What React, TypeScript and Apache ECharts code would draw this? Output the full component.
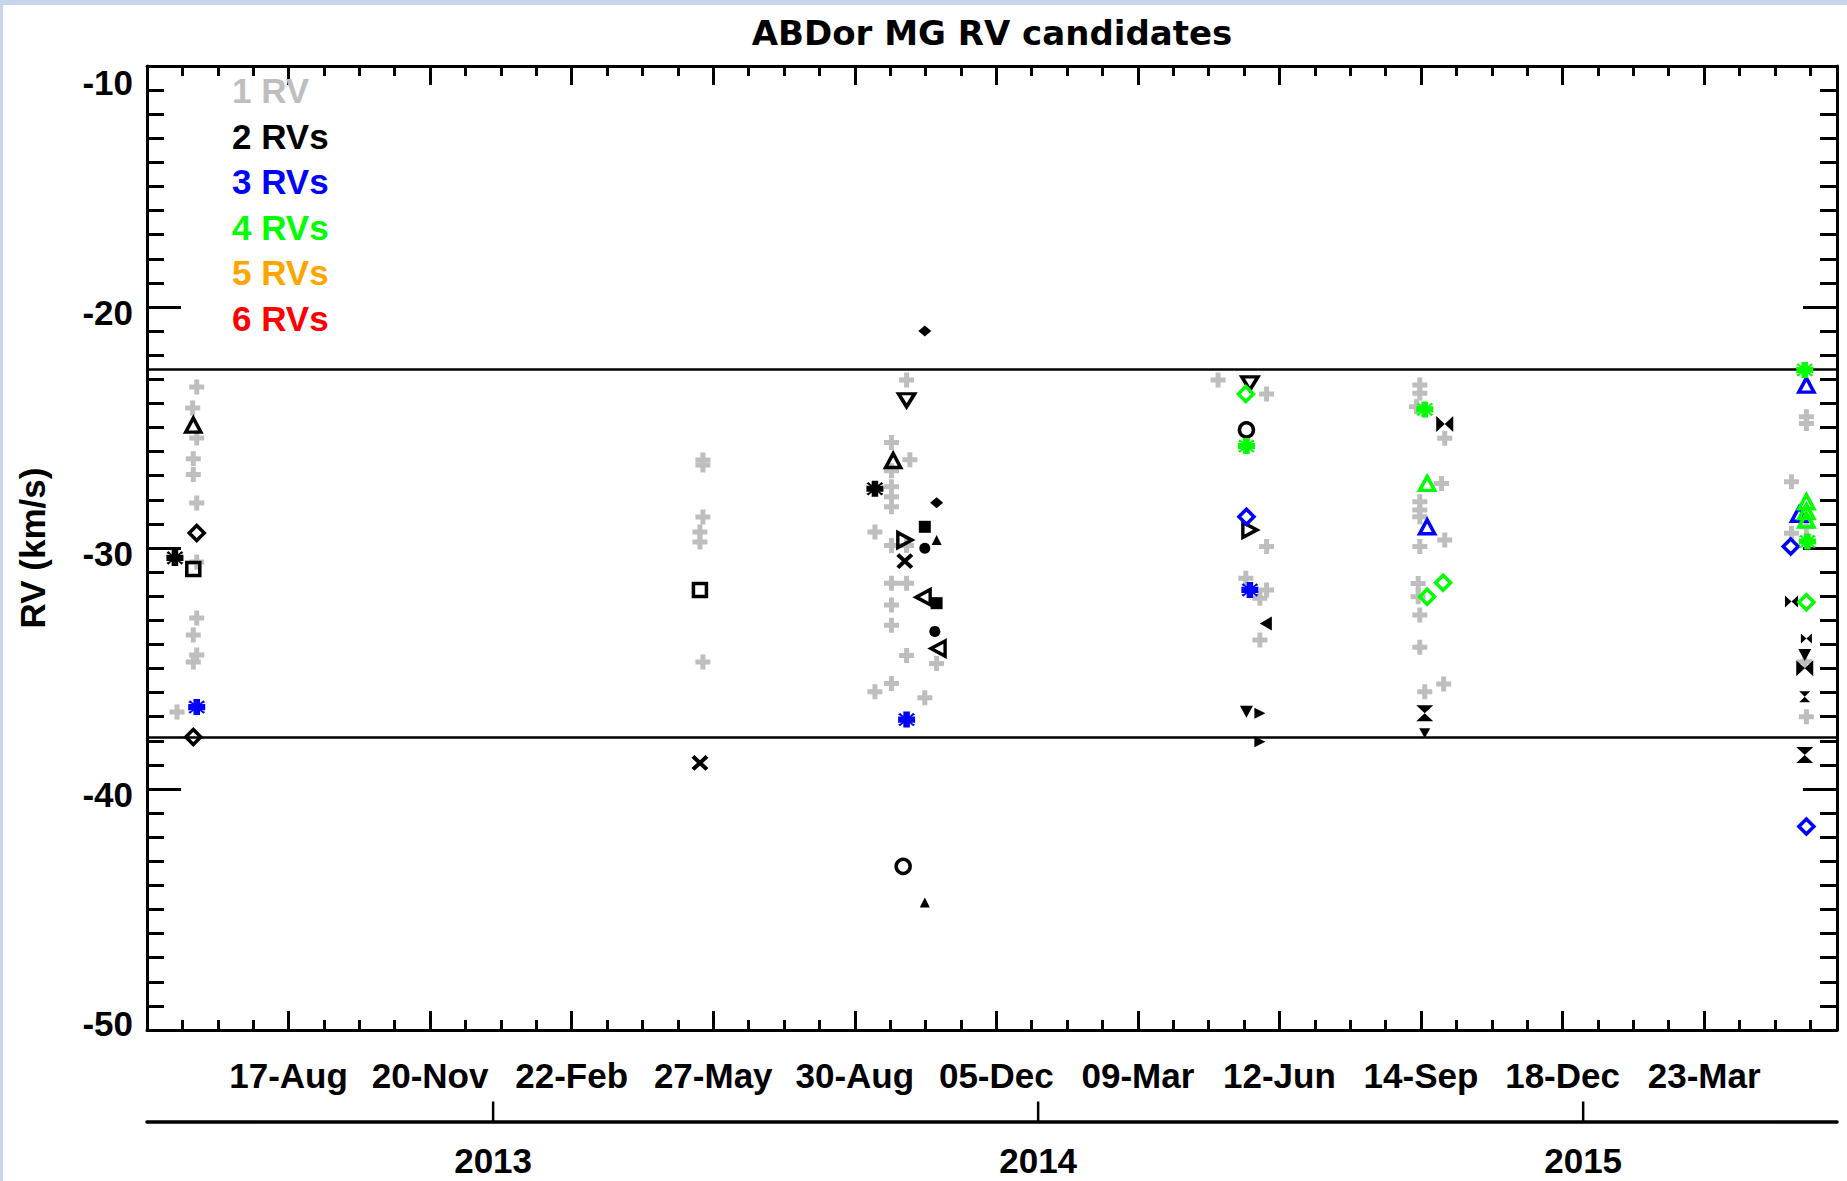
import React, { useEffect, useRef } from 'react';
import * as echarts from 'echarts';

// x values are days since 17-Aug-2012 (first labelled tick)
const DAY0 = Date.UTC(2012, 7, 17);
const X_MIN = -94.8;
const X_MAX = 1037;
const X_INTERVAL = 94.8;
const DATE_LABELS = ['17-Aug', '20-Nov', '22-Feb', '27-May', '30-Aug', '05-Dec', '09-Mar', '12-Jun', '14-Sep', '18-Dec', '23-Mar'];
const YEAR_LABELS = ['2013', '2014', '2015'];
const YEAR_DATES = ['2013-01-01', '2014-01-01', '2015-01-01'];
const Y_MIN = -50;
const Y_MAX = -10;
const Y_INTERVAL = 10;
const THRESHOLDS = [-22.58, -37.84];
const TITLE = 'ABDor MG RV candidates';
const Y_NAME = 'RV (km/s)';
const LEGEND_LABELS = ['1 RV', '2 RVs', '3 RVs', '4 RVs', '5 RVs', '6 RVs'];
const LEGEND_COLORS = ['#bebebe', '#000000', '#0000ff', '#00ff00', '#ffa500', '#ff0000'];

// [day, RV]
const ONE_RV: [number, number][] = [
  [-61.5, -23.32], [-64.2, -24.19], [-61.5, -25.44], [-63.8, -26.3], [-63.8, -26.95], [-61.5, -28.13],
  [-61.5, -30.58], [-61.5, -32.9], [-63.8, -33.61], [-61.5, -34.44], [-63.8, -34.73], [-74.7, -36.8],
  [277.5, -26.35], [277.5, -26.56], [277.5, -28.71], [275.5, -29.34], [275.5, -29.75], [277.5, -34.73],
  [413.9, -23.03], [403.8, -25.62], [416.1, -26.34], [403.8, -26.79], [403.8, -27.46], [403.8, -27.87],
  [403.8, -28.29], [392.7, -29.34], [403.8, -29.9], [413.9, -29.9], [403.8, -31.46], [413.9, -31.46],
  [403.8, -32.37], [403.8, -33.21], [413.9, -34.46], [434.0, -34.79], [403.8, -35.62], [392.7, -35.96],
  [426.1, -36.21],
  [622.5, -23.03], [655.0, -23.61], [655.0, -29.94], [641.1, -31.26], [655.0, -31.74], [650.5, -32.09],
  [650.5, -33.82],
  [757.6, -23.24], [757.6, -23.58], [755.4, -24.14], [774.3, -25.45], [772.1, -27.32], [757.6, -28.08],
  [757.6, -28.42], [757.6, -28.7], [774.3, -29.67], [757.6, -29.94], [756.5, -31.47], [756.5, -32.02],
  [757.6, -32.78], [757.6, -34.12], [773.6, -35.64], [760.9, -35.96],
  [1016.5, -24.55], [1016.5, -24.83], [1006.5, -27.25], [1006.5, -29.39], [1016.5, -29.12], [1015.4, -34.72],
  [1016.5, -37.0],
];

// [day, RV, symbol]
const TWO_RVS: [number, number, string][] = [
  [-63.8, -24.9, 'triUp'], [-61.5, -29.38, 'diamond'], [-76.1, -30.41, 'asterisk'], [-63.8, -30.87, 'square'],
  [-63.8, -37.84, 'diamond'],
  [275.5, -31.74, 'square'], [275.5, -38.92, 'x'],
  [426.1, -21.0, 'fdiamond'], [413.9, -23.87, 'triDown'], [404.9, -26.37, 'triUp'], [392.7, -27.54, 'asterisk'],
  [434.0, -28.12, 'fdiamond'], [426.1, -29.12, 'fsquare'], [412.7, -29.67, 'triRight'], [434.0, -29.67, 'ftriUp'],
  [426.1, -30.01, 'fcircle'], [412.7, -30.54, 'x'], [425.0, -32.04, 'triLeft'], [434.0, -32.29, 'fsquare'],
  [432.8, -33.46, 'fcircle'], [435.0, -34.17, 'triLeft'], [411.6, -43.21, 'circle'], [426.1, -44.71, 'ftriUp'],
  [643.8, -23.17, 'triDown'], [641.5, -25.1, 'circle'], [643.8, -29.25, 'triRight'], [654.5, -33.13, 'ftriLeft'],
  [641.5, -36.79, 'ftriDown'], [650.5, -36.86, 'ftriRight'], [650.5, -38.04, 'ftriRight'],
  [774.3, -24.85, 'bowtie'], [760.9, -36.86, 'hourglass'], [760.9, -37.69, 'ftriDownS'],
  [1006.5, -32.22, 'bowtieM'], [1016.5, -33.75, 'bowtieS'], [1015.4, -34.44, 'ftriDown'], [1015.4, -34.99, 'bowtie'],
  [1015.4, -36.17, 'hourglassS'], [1015.4, -38.59, 'hourglass'],
];

const THREE_RVS: [number, number, string][] = [
  [-61.5, -36.6, 'asterisk'], [413.9, -37.12, 'asterisk'], [643.8, -31.74, 'asterisk'],
  [641.5, -28.7, 'diamond'], [1006.0, -29.94, 'diamond'], [1016.5, -41.56, 'diamond'],
  [762.5, -29.12, 'triUp'], [1016.5, -23.24, 'triUp'], [1011.6, -28.6, 'triUp'],
];

const FOUR_RVS: [number, number, string][] = [
  [641.5, -25.77, 'asterisk'], [760.9, -24.25, 'asterisk'], [1015.4, -22.61, 'asterisk'], [1017.2, -29.73, 'asterisk'],
  [641.1, -23.61, 'diamond'], [773.2, -31.44, 'diamond'], [762.5, -32.02, 'diamond'], [1016.5, -32.25, 'diamond'],
  [762.5, -27.32, 'triUp'], [1016.5, -28.08, 'triUp'], [1016.5, -28.49, 'triUp'], [1016.5, -28.84, 'triUp'],
];

const FONT = '"Liberation Sans", Arial, sans-serif';

type SymDef = { path: string; fill: boolean; size: number[]; stroke?: number };
const ASTERISK =
  'path://M-1,-2.6L1,-2.6L1,-1.2L2,-2.2L2.6,-1.6L1.4,-1L2.6,-1L2.6,1L1.4,1L2.6,1.6L2,2.2L1,1.2L1,2.6L-1,2.6L-1,1.2L-2,2.2L-2.6,1.6L-1.4,1L-2.6,1L-2.6,-1L-1.4,-1L-2.6,-1.6L-2,-2.2L-1,-1.2Z';
const SYM: Record<string, SymDef> = {
  plus: { path: 'path://M-1,-3L1,-3L1,-1L3,-1L3,1L1,1L1,3L-1,3L-1,1L-3,1L-3,-1L-1,-1Z', fill: true, size: [15, 15] },
  triUp: { path: 'path://M0,-1L1,1L-1,1Z', fill: false, size: [15, 14], stroke: 3.5 },
  triDown: { path: 'path://M-1,-1L1,-1L0,1Z', fill: false, size: [16, 13], stroke: 3.5 },
  triRight: { path: 'path://M-1,-1L1,0L-1,1Z', fill: false, size: [14, 15], stroke: 3.5 },
  triLeft: { path: 'path://M1,-1L-1,0L1,1Z', fill: false, size: [14, 15], stroke: 3.5 },
  diamond: { path: 'path://M0,-1L1,0L0,1L-1,0Z', fill: false, size: [15, 15], stroke: 3.5 },
  square: { path: 'path://M-1,-1L1,-1L1,1L-1,1Z', fill: false, size: [13, 13], stroke: 3.5 },
  circle: { path: 'circle', fill: false, size: [14, 14], stroke: 3.5 },
  asterisk: { path: ASTERISK, fill: true, size: [17, 16] },
  x: { path: 'path://M-1,-1L1,1M-1,1L1,-1', fill: false, size: [14, 13], stroke: 4 },
  fdiamond: { path: 'path://M0,-1L1,0L0,1L-1,0Z', fill: true, size: [13, 11] },
  fsquare: { path: 'rect', fill: true, size: [12, 12] },
  fcircle: { path: 'circle', fill: true, size: [11, 11] },
  ftriUp: { path: 'path://M0,-1L1,1L-1,1Z', fill: true, size: [10, 10] },
  ftriDown: { path: 'path://M-1,-1L1,-1L0,1Z', fill: true, size: [13, 12] },
  ftriDownS: { path: 'path://M-1,-1L1,-1L0,1Z', fill: true, size: [11, 10] },
  ftriRight: { path: 'path://M-1,-1L1,0L-1,1Z', fill: true, size: [11, 11] },
  ftriLeft: { path: 'path://M1,-1L-1,0L1,1Z', fill: true, size: [12, 14] },
  bowtie: { path: 'path://M-1,-1L0,0L-1,1ZM1,-1L0,0L1,1Z', fill: true, size: [17, 16] },
  bowtieM: { path: 'path://M-1,-1L0,0L-1,1ZM1,-1L0,0L1,1Z', fill: true, size: [13, 12] },
  bowtieS: { path: 'path://M-1,-1L0,0L-1,1ZM1,-1L0,0L1,1Z', fill: true, size: [11, 10] },
  hourglass: { path: 'path://M-1,-1L1,-1L0,0ZM-1,1L1,1L0,0Z', fill: true, size: [17, 16] },
  hourglassS: { path: 'path://M-1,-1L1,-1L0,0ZM-1,1L1,1L0,0Z', fill: true, size: [11, 11] },
};

function points(rows: [number, number, string][], color: string) {
  return rows.map(([x, y, s]) => {
    const d = SYM[s];
    return {
      value: [x, y],
      symbol: d.path,
      symbolSize: d.size,
      itemStyle: {
        color: d.fill ? color : 'rgba(0,0,0,0)',
        borderColor: color,
        borderWidth: d.fill ? 0 : d.stroke,
        opacity: 1,
      },
    };
  });
}

const dayOf = (iso: string) => (Date.parse(iso) - DAY0) / 86400000;

const LINE = { color: '#000', width: 3 };
const labelFont = { fontFamily: FONT, fontWeight: 'bold' as const, fontSize: 35, color: '#000' };

function xLabel(v: number) {
  const i = Math.round(v / X_INTERVAL);
  if (Math.abs(v - i * X_INTERVAL) > 1e-3 || i < 0 || i >= DATE_LABELS.length) return '';
  return DATE_LABELS[i];
}

function buildOption(): any {
  const baseX = {
    type: 'value',
    min: X_MIN,
    max: X_MAX,
    interval: X_INTERVAL,
    axisLine: { show: true, onZero: false, lineStyle: LINE },
    axisTick: { show: true, inside: true, length: 19, lineStyle: LINE },
    minorTick: { show: true, splitNumber: 4, length: 10, lineStyle: LINE },
    splitLine: { show: false },
  };
  const baseY = {
    type: 'value',
    min: Y_MIN,
    max: Y_MAX,
    interval: Y_INTERVAL,
    axisLine: { show: true, onZero: false, lineStyle: LINE },
    axisTick: { show: true, inside: true, length: 34, lineStyle: LINE },
    minorTick: { show: true, splitNumber: 10, length: 17, lineStyle: LINE },
    splitLine: { show: false },
  };
  const common = { silent: true, emphasis: { disabled: true }, animation: false };
  return {
    animation: false,
    backgroundColor: '#ffffff',
    title: {
      text: TITLE,
      left: 989,
      top: 11,
      textAlign: 'center',
      padding: 0,
      textStyle: { fontFamily: '"DejaVu Sans", sans-serif', fontWeight: 'bold', fontSize: 34, color: '#000' },
    },
    legend: {
      orient: 'vertical',
      left: 224,
      top: 68,
      padding: 0,
      itemGap: 10.5,
      itemWidth: 0,
      itemHeight: 35,
      icon: 'none',
      selectedMode: false,
      textStyle: { fontFamily: FONT, fontWeight: 'bold', fontSize: 35, lineHeight: 35 },
      data: LEGEND_LABELS.map((n, i) => ({ name: n, icon: 'none', textStyle: { color: LEGEND_COLORS[i] } })),
    },
    grid: [
      { left: 144, top: 61, width: 1690, height: 964 },
      { left: 144, top: 1115.5, width: 1690, height: 1 },
    ],
    xAxis: [
      {
        ...baseX,
        gridIndex: 0,
        position: 'bottom',
        axisLabel: { ...labelFont, margin: 28, formatter: xLabel },
      },
      { ...baseX, gridIndex: 0, position: 'top', axisLabel: { show: false } },
      {
        type: 'value',
        gridIndex: 1,
        min: X_MIN,
        max: X_MAX,
        axisLine: { show: true, onZero: false, lineStyle: { color: '#000', width: 3.5 } },
        axisTick: { show: false },
        axisLabel: { show: false },
        splitLine: { show: false },
      },
    ],
    yAxis: [
      {
        ...baseY,
        gridIndex: 0,
        position: 'left',
        name: Y_NAME,
        nameLocation: 'middle',
        nameGap: 97,
        nameTextStyle: { ...labelFont },
        axisLabel: {
          ...labelFont,
          margin: 14,
          formatter: (v: number) => (v === Y_MAX ? `{top|${v}}` : v === Y_MIN ? `{bot|${v}}` : `{mid|${v}}`),
          rich: {
            top: { ...labelFont, padding: [32, 0, 0, 0] },
            mid: { ...labelFont, padding: [10, 0, 0, 0] },
            bot: { ...labelFont, padding: [0, 0, 14, 0] },
          },
        },
      },
      { ...baseY, gridIndex: 0, position: 'right', axisLabel: { show: false } },
      { type: 'value', gridIndex: 1, show: false, min: 0, max: 1 },
    ],
    series: [
      {
        ...common,
        type: 'line',
        xAxisIndex: 0,
        yAxisIndex: 0,
        data: [],
        z: 1,
        markLine: {
          silent: true,
          symbol: 'none',
          animation: false,
          label: { show: false },
          lineStyle: { color: '#000', width: 2.5, type: 'solid' },
          data: THRESHOLDS.map((v) => ({ yAxis: v })),
        },
      },
      {
        ...common,
        name: LEGEND_LABELS[0],
        type: 'scatter',
        xAxisIndex: 0,
        yAxisIndex: 0,
        z: 2,
        itemStyle: { color: LEGEND_COLORS[0], opacity: 1 },
        data: points(ONE_RV.map(([x, y]) => [x, y, 'plus'] as [number, number, string]), LEGEND_COLORS[0]),
      },
      {
        ...common,
        name: LEGEND_LABELS[1],
        type: 'scatter',
        xAxisIndex: 0,
        yAxisIndex: 0,
        z: 3,
        itemStyle: { color: LEGEND_COLORS[1], opacity: 1 },
        data: points(TWO_RVS, LEGEND_COLORS[1]),
      },
      {
        ...common,
        name: LEGEND_LABELS[2],
        type: 'scatter',
        xAxisIndex: 0,
        yAxisIndex: 0,
        z: 4,
        itemStyle: { color: LEGEND_COLORS[2], opacity: 1 },
        data: points(THREE_RVS, LEGEND_COLORS[2]),
      },
      {
        ...common,
        name: LEGEND_LABELS[3],
        type: 'scatter',
        xAxisIndex: 0,
        yAxisIndex: 0,
        z: 5,
        itemStyle: { color: LEGEND_COLORS[3], opacity: 1 },
        data: points(FOUR_RVS, LEGEND_COLORS[3]),
      },
      {
        ...common,
        name: LEGEND_LABELS[4],
        type: 'scatter',
        xAxisIndex: 0,
        yAxisIndex: 0,
        itemStyle: { color: LEGEND_COLORS[4] },
        data: [],
      },
      {
        ...common,
        name: LEGEND_LABELS[5],
        type: 'scatter',
        xAxisIndex: 0,
        yAxisIndex: 0,
        itemStyle: { color: LEGEND_COLORS[5] },
        data: [],
      },
      {
        ...common,
        type: 'scatter',
        xAxisIndex: 2,
        yAxisIndex: 2,
        clip: false,
        symbol: 'rect',
        symbolSize: [2.5, 20],
        symbolOffset: [0, -10],
        itemStyle: { color: '#000', opacity: 1 },
        label: { show: true, position: 'bottom', distance: 21, formatter: '{b}', ...labelFont },
        data: YEAR_DATES.map((d, i) => ({ name: YEAR_LABELS[i], value: [dayOf(d), 0] })),
      },
    ],
  };
}

export default function App() {
  const ref = useRef<HTMLDivElement>(null);
  useEffect(() => {
    if (!ref.current) return;
    const chart = echarts.init(ref.current, undefined, { renderer: 'svg' });
    chart.setOption(buildOption());
    return () => chart.dispose();
  }, []);
  return (
    <div style={{ position: 'fixed', left: 0, top: 0, right: 0, bottom: 0, background: '#c6d7ec' }}>
      <div
        ref={ref}
        style={{ position: 'absolute', left: 3, top: 5, right: 0, bottom: 0, background: '#ffffff' }}
      />
    </div>
  );
}
